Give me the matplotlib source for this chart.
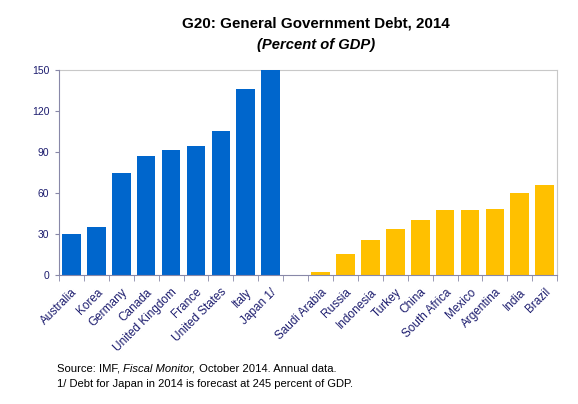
import matplotlib.pyplot as plt
import numpy as np
import matplotlib

matplotlib.rcParams['font.family'] = ['Liberation Sans', 'DejaVu Sans']

ADV_NAMES = ["Australia", "Korea", "Germany", "Canada", "United Kingdom", "France",
             "United States", "Italy", "Japan 1/"]
ADV_DEBT = [30.1, 35.0, 75.1, 87.6, 91.5, 94.9, 105.2, 136.6, 245.0]
EM_NAMES = ["Saudi Arabia", "Russia", "Indonesia", "Turkey", "China", "South Africa",
            "Mexico", "Argentina", "India", "Brazil"]
EM_DEBT = [2.2, 15.4, 25.7, 33.8, 40.4, 47.7, 47.7, 48.4, 60.4, 66.1]
Y_TICKS = [0, 30, 60, 90, 120, 150]

BLUE = "#0066CC"
GOLD = "#FFC000"
NAVY = "#1C1C6E"

fig = plt.figure(figsize=(5.78, 4.04), dpi=100)
ax = fig.add_axes([0.102, 0.319, 0.862, 0.507])

x_adv = np.arange(len(ADV_NAMES))
x_em = np.arange(len(EM_NAMES)) + len(ADV_NAMES) + 1
ax.bar(x_adv, ADV_DEBT, width=0.75, color=BLUE, zorder=2)
ax.bar(x_em, EM_DEBT, width=0.75, color=GOLD, zorder=2)

n_slots = len(ADV_NAMES) + 1 + len(EM_NAMES)
ax.set_xlim(-0.5, n_slots - 0.5)
ax.set_ylim(0, 150)
ax.set_yticks(Y_TICKS)
ax.tick_params(axis="y", labelsize=7.5, labelcolor=NAVY, color="#8888A8", length=3, pad=4)

ax.set_xticks(np.concatenate([x_adv, x_em]))
ax.set_xticklabels(ADV_NAMES + EM_NAMES, rotation=45, ha="right", rotation_mode="anchor")
ax.set_xticks(np.arange(n_slots + 1) - 0.5, minor=True)
ax.tick_params(axis="x", which="major", length=0, labelsize=8.5, labelcolor=NAVY, pad=8)
ax.tick_params(axis="x", which="minor", length=4, color="#8888A8")

for s in ["left", "bottom"]:
    ax.spines[s].set_color("#8888A8")
for s in ["top", "right"]:
    ax.spines[s].set_color("#C8C8C8")
ax.spines["top"].set_zorder(1)

fig.text(0.547, 0.942, "G20: General Government Debt, 2014", ha="center", va="center",
         fontsize=10.9, fontweight="bold")
fig.text(0.547, 0.888, "(Percent of GDP)", ha="center", va="center",
         fontsize=10.6, fontweight="bold", style="italic")

# source line mixes upright and italic text, so place the pieces one after another
src_y = 0.087
renderer = fig.canvas.get_renderer()
t1 = fig.text(0.099, src_y, "Source: IMF, ", fontsize=8.1, va="center")
x1 = t1.get_window_extent(renderer=renderer).x1 / fig.bbox.width
t2 = fig.text(x1, src_y, "Fiscal Monitor,", fontsize=8.1, va="center", style="italic")
x2 = t2.get_window_extent(renderer=renderer).x1 / fig.bbox.width
fig.text(x2, src_y, " October 2014. Annual data.", fontsize=8.1, va="center")
fig.text(0.099, 0.050, "1/ Debt for Japan in 2014 is forecast at 245 percent of GDP.",
         fontsize=8.0, va="center")

fig.savefig("out.png", facecolor="white")
